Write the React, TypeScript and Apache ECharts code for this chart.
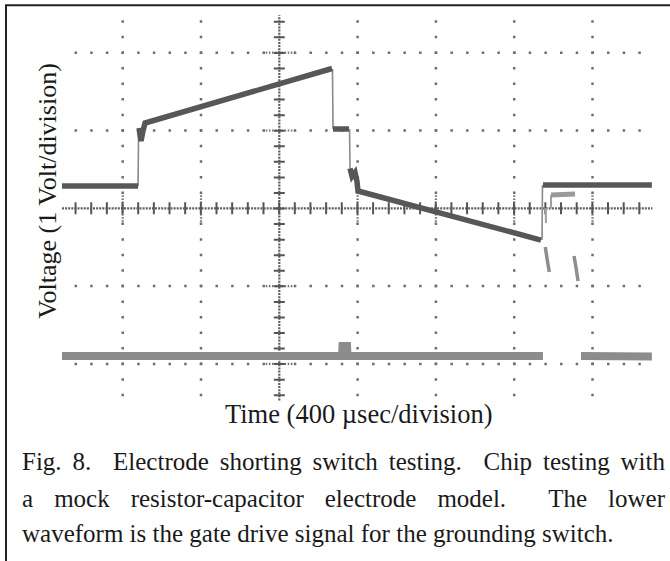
import { useEffect, useRef } from "react";
import * as echarts from "echarts";

// Oscilloscope screen, in divisions (x: 400 µs/div, y: 1 V/div), centre of screen = 0
const xRange = [-2.8, 4.8];
const yRange = [-2.5, 2.5];
const majorXs = [-2, -1, 1, 2, 3, 4];
const majorYs = [-2, -1, 1, 2];
const dotRowSpan = [-2.7, 4.7];
const dotColSpan = [-2.5, 2.5];
const centreXSpan = [-2.775, 4.765];
const centreYSpan = [-2.47, 2.48];
const nearCentre = [-0.2, 0.2];

// Upper waveform (electrode voltage), dark trace segments
const upperBaseline = [[-2.775, 0.287], [-1.804, 0.287]];
const upperRise = [[-1.792, 1.032], [-1.766, 0.865], [-1.741, 0.993], [-1.715, 1.096], [0.673, 1.797]];
const upperHold = [[0.686, 1.019], [0.89, 1.019]];
const upperFall = [[0.903, 0.513], [0.929, 0.41], [0.967, 0.461], [0.992, 0.345], [1.005, 0.222], [3.342, -0.408]];
const upperReturn = [[3.368, 0.3], [4.758, 0.3]];
// fast transitions (thin, faint)
const upperEdges = [
  [[-1.804, 0.287], [-1.797, 1.032]],
  [[0.679, 1.79], [0.686, 1.019]],
  [[0.897, 1.019], [0.903, 0.513]],
  [[3.355, -0.408], [3.361, 0.3]],
];
// switch-off glitches (light grey)
const glitchBar = [[3.47, 0.171], [3.777, 0.184]];
const glitchLinks = [
  [[3.47, 0.171], [3.47, 0.0]],
  [[3.4, 0.003], [3.406, -0.19]],
];
const glitchSpikes = [
  [[3.397, -0.497], [3.42, -0.65], [3.448, -0.819]],
  [[3.764, -0.613], [3.79, -0.767], [3.815, -0.934]],
];

// Lower waveform (gate drive signal)
const lowerA = [[-2.775, -1.898], [0.801, -1.898], [0.807, -1.77], [0.865, -1.77], [0.871, -1.898], [3.367, -1.898]];
const lowerB = [[3.853, -1.898], [4.758, -1.905]];

const xTitle = "Time (400 \u00b5sec/division)";
const yTitle = "Voltage (1 Volt/division)";
const captionLines = [
  { words: ["Fig.", "8.", "Electrode", "shorting", "switch", "testing.", "Chip", "testing", "with"], gaps: [1, 2, 1, 1, 1, 2, 1, 1], justify: true },
  { words: ["a", "mock", "resistor-capacitor", "electrode", "model.", "The", "lower"], gaps: [1, 1, 1, 1, 2, 1], justify: true },
  { words: ["waveform is the gate drive signal for the grounding switch."], gaps: [], justify: false },
];

const FONT = '"Liberation Serif", "Times New Roman", serif';

export default function App() {
  const ref = useRef<HTMLDivElement>(null);
  useEffect(() => {
    const el = ref.current!;
    const chart = echarts.init(el, null, { renderer: "svg" });

    const gridLeft = 60.06;
    const gridW = 595.1;
    const gridTop = 13.8;
    const gridH = 389;
    const PX = (gridW / (xRange[1] - xRange[0])) * 0.2;
    const PY = (gridH / (yRange[1] - yRange[0])) * 0.2;

    const mk = (data: number[][], color: string, width: number, extra: any = {}, z = 2) => ({
      type: "line",
      data,
      showSymbol: false,
      symbol: "none",
      silent: true,
      z,
      emphasis: { disabled: true },
      lineStyle: { color, width, type: "solid", cap: "butt", join: "miter", ...extra },
    });

    const series: any[] = [];
    const dotColor = "#6e6e6e";
    majorXs.forEach((x) =>
      series.push(mk([[x, dotColSpan[0]], [x, dotColSpan[1]]], dotColor, 2.5, { type: [2.5, PY - 2.5], dashOffset: PY / 2 + 1.25 }, 1))
    );
    majorYs.forEach((y) =>
      series.push(mk([[dotRowSpan[0], y], [dotRowSpan[1], y]], dotColor, 2.5, { type: [2.5, PX - 2.5], dashOffset: PX / 2 + 1.25 }, 1))
    );
    majorYs.forEach((y) =>
      series.push(mk([[nearCentre[0], y], [nearCentre[1], y]], dotColor, 2.2, { type: [1.5, PX / 5 - 1.5], dashOffset: 0.75 }, 1))
    );
    majorXs.forEach((x) =>
      series.push(mk([[x, nearCentre[0]], [x, nearCentre[1]]], dotColor, 2.2, { type: [1.5, PY / 5 - 1.5], dashOffset: 0.75 }, 1))
    );
    // centre cross
    series.push(mk([[centreXSpan[0], 0], [centreXSpan[1], 0]], "#5e5e5e", 2.2, { type: [2, 1.1] }, 1));
    series.push(mk([[0, centreYSpan[0]], [0, centreYSpan[1]]], "#5e5e5e", 2.2, { type: [2, 1.1] }, 1));
    series.push(mk([[dotRowSpan[0], 0], [dotRowSpan[1], 0]], "#555", 12, { type: [2, PX - 2], dashOffset: PX / 2 + 1 }, 1));
    series.push(mk([[0, dotColSpan[0]], [0, dotColSpan[1]]], "#555", 11, { type: [2, PY - 2], dashOffset: PY / 2 + 1 }, 1));

    // lower waveform
    series.push(mk(lowerA, "#8c8c8c", 8, {}, 3));
    series.push(mk(lowerB, "#8c8c8c", 8, {}, 3));
    // upper waveform
    upperEdges.forEach((e) => series.push(mk(e, "#8a8a8a", 1.6, {}, 3)));
    glitchLinks.forEach((e) => series.push(mk(e, "#a0a0a0", 2, {}, 3)));
    series.push(mk(glitchBar, "#9a9a9a", 5, {}, 3));
    glitchSpikes.forEach((e) => series.push(mk(e, "#8e8e8e", 3.5, {}, 3)));
    [upperBaseline, upperRise, upperHold, upperFall, upperReturn].forEach((s) =>
      series.push(mk(s, "#575757", 5.5, {}, 4))
    );

    // caption layout (justified)
    const fs = 25;
    const ctx = document.createElement("canvas").getContext("2d")!;
    ctx.font = `${fs}px ${FONT}`;
    const capLeft = 22;
    const capRight = 665;
    const baselines = [470, 507, 542];
    const graphic: any[] = [
      {
        type: "rect",
        shape: { x: 6, y: 5.3, width: 720, height: 620 },
        style: { fill: "none", stroke: "#222", lineWidth: 2 },
        silent: true,
      },
      {
        type: "text",
        x: 47,
        y: 191,
        rotation: Math.PI / 2,
        style: { text: yTitle, font: `26px ${FONT}`, fill: "#1a1a1a", align: "center", verticalAlign: "middle", textAlign: "center", textVerticalAlign: "middle" },
        silent: true,
      },
      {
        type: "text",
        x: 225,
        y: 414,
        style: { text: xTitle, font: `26.5px ${FONT}`, fill: "#1a1a1a", align: "left", verticalAlign: "middle", textAlign: "left", textVerticalAlign: "middle" },
        silent: true,
      },
    ];
    captionLines.forEach((ln, i) => {
      const y = baselines[i] - 0.3375 * fs;
      const widths = ln.words.map((w) => ctx.measureText(w).width);
      let positions: number[] = [];
      if (ln.justify) {
        const total = widths.reduce((a, b) => a + b, 0);
        const wsum = ln.gaps.reduce((a, b) => a + b, 0);
        const unit = (capRight - capLeft - total) / wsum;
        let x = capLeft;
        ln.words.forEach((_, k) => {
          positions.push(x);
          x += widths[k] + (k < ln.gaps.length ? ln.gaps[k] * unit : 0);
        });
      } else {
        positions = [capLeft];
      }
      ln.words.forEach((w, k) => {
        graphic.push({
          type: "text",
          x: positions[k],
          y,
          style: { text: w, font: `${fs}px ${FONT}`, fill: "#1a1a1a", align: "left", verticalAlign: "middle", textAlign: "left", textVerticalAlign: "middle" },
          silent: true,
        });
      });
    });

    chart.setOption({
      animation: false,
      backgroundColor: "#fff",
      grid: { left: gridLeft, top: gridTop, width: gridW, height: gridH },
      xAxis: { type: "value", min: xRange[0], max: xRange[1], show: false },
      yAxis: { type: "value", min: yRange[0], max: yRange[1], show: false },
      series,
      graphic,
    });
    return () => chart.dispose();
  }, []);
  return <div ref={ref} style={{ position: "absolute", left: 0, top: 0, width: 670, height: 561, background: "#fff" }} />;
}
